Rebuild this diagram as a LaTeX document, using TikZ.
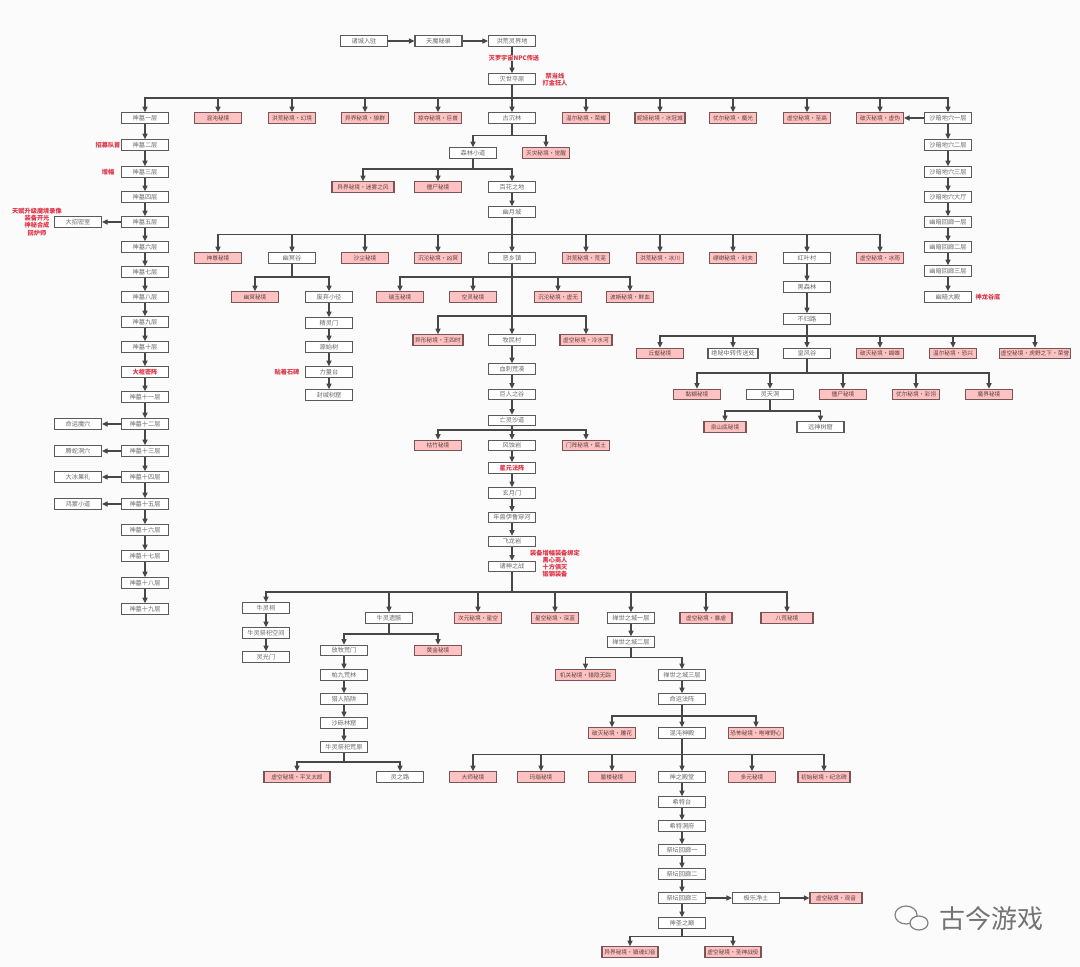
\documentclass[tikz,border=0pt]{standalone}
\usepackage{fontspec}
\setmainfont{Noto Sans CJK SC}
\usetikzlibrary{arrows.meta}
\definecolor{bgc}{HTML}{FBFBFB}
\definecolor{pinkf}{HTML}{FFC2C2}
\definecolor{pinkd}{HTML}{7A5555}
\definecolor{boxd}{HTML}{5A5A5A}
\definecolor{linec}{HTML}{474747}
\definecolor{txtc}{HTML}{6A6A6A}
\definecolor{redt}{HTML}{DE3345}
\tikzset{
  x=1pt,y=-1pt,
  wb/.style={draw=boxd,fill=white,line width=1.1pt,minimum width=47pt,minimum height=10.5pt,inner sep=0pt,text=txtc,font=\fontsize{6.2}{7}\selectfont},
  pb/.style={wb,draw=pinkd,fill=pinkf,text=pinkd!75!black,font=\fontsize{5.7}{7}\selectfont},
  rb/.style={wb,text=redt},
  redl/.style={text=redt,font=\fontsize{6.2}{7.1}\selectfont\bfseries,align=center,inner sep=0pt},
  link/.style={draw=linec,line width=1.1pt,-{Triangle[length=5.5pt,width=5pt]}},
}
\newcommand{\tre}[3]{\foreach \c in {#3}{\draw[link] (#1.south) -- (#1.south |- 0,#2) -| (\c.north);}}
\newcommand{\dn}[2]{\draw[link] (#1.south) -- (#2.north);}
\newcommand{\lf}[2]{\draw[link] (#1.west) -- (#2.east);}
\newcommand{\rt}[2]{\draw[link] (#1.east) -- (#2.west);}
\begin{document}
\begin{tikzpicture}
\useasboundingbox (0,0) rectangle (1080,967);
\fill[bgc] (0,0) rectangle (1080,967);
% top
\node[wb] (a) at (364,41) {诸城入驻};
\node[wb] (b) at (438.5,41) {天魔秘录};
\node[wb] (c) at (512,41) {洪荒灵界地};
\node[wb] (d) at (512,79) {灭世平原};
\rt{a}{b}\rt{b}{c}\dn{c}{d}
\node[redl,fill=bgc] (rd1) at (514,58) {灭罗宇宙NPC传送};
\node[redl] (rd2) at (555,80) {禁当线\\打金狂人};
% row 2
\node[wb] (l1) at (145,118) {神墓一层};
\node[pb] (r1) at (218,118) {混沌秘境};
\node[pb] (r2) at (292,118) {洪荒秘境·幻境};
\node[pb] (r3) at (365,118) {异界秘境·狼群};
\node[pb] (r4) at (438,118) {掠夺秘境·巨兽};
\node[wb] (gu) at (512,118) {古沉林};
\node[pb] (r5) at (586,118) {温尔秘境·荣耀};
\node[pb,minimum width=50pt] (r6) at (660,118) {妮娅秘境·冰冠城};
\node[pb] (r7) at (733,118) {优尔秘境·魔光};
\node[pb] (r8) at (807,118) {虚空秘境·至高};
\node[pb] (r9) at (880,118) {破灭秘境·虚伪};
\node[wb] (s1) at (948,118) {沙暗地穴一层};
\tre{d}{98}{l1,r1,r2,r3,r4,gu,r5,r6,r7,r8,r9,s1}
\lf{s1}{r9}
% left column
\node[wb] (l2) at (145,145) {神墓二层};
\node[wb] (l3) at (145,172) {神墓三层};
\node[wb] (l4) at (145,197) {神墓四层};
\node[wb] (l5) at (145,222) {神墓五层};
\node[wb] (l6) at (145,247) {神墓六层};
\node[wb] (l7) at (145,272) {神墓七层};
\node[wb] (l8) at (145,297) {神墓八层};
\node[wb] (l9) at (145,322) {神墓九层};
\node[wb] (l10) at (145,347) {神墓十层};
\node[rb] (lx) at (145,372) {\textbf{大棺密阵}};
\node[wb] (l11) at (145,397) {神墓十一层};
\node[wb] (l12) at (145,424) {神墓十二层};
\node[wb] (l13) at (145,451) {神墓十三层};
\node[wb] (l14) at (145,477) {神墓十四层};
\node[wb] (l15) at (145,504) {神墓十五层};
\node[wb] (l16) at (145,530) {神墓十六层};
\node[wb] (l17) at (145,556) {神墓十七层};
\node[wb] (l18) at (145,583) {神墓十八层};
\node[wb] (l19) at (145,609) {神墓十九层};
\dn{l1}{l2}\dn{l2}{l3}\dn{l3}{l4}\dn{l4}{l5}\dn{l5}{l6}\dn{l6}{l7}\dn{l7}{l8}\dn{l8}{l9}\dn{l9}{l10}\dn{l10}{lx}\dn{lx}{l11}\dn{l11}{l12}\dn{l12}{l13}\dn{l13}{l14}\dn{l14}{l15}\dn{l15}{l16}\dn{l16}{l17}\dn{l17}{l18}\dn{l18}{l19}
\node[wb] (m5) at (78,222) {大招密室};
\node[wb] (m12) at (78,424) {命运魔穴};
\node[wb] (m13) at (78,451) {腾蛇洞穴};
\node[wb] (m14) at (78,477) {大冰果礼};
\node[wb] (m15) at (78,504) {鸿蒙小道};
\lf{l5}{m5}\lf{l12}{m12}\lf{l13}{m13}\lf{l14}{m14}\lf{l15}{m15}
\node[redl] (t1) at (108,145.5) {招募队首};
\node[redl] (t2) at (108,172.5) {增幅};
\node[redl] (t3) at (37,222) {天赋升级魔境录像\\装备开光\\神秘合成\\回炉师};
% right column
\node[wb] (s2) at (948,145) {沙暗地穴二层};
\node[wb] (s3) at (948,172) {沙暗地穴三层};
\node[wb] (s4) at (948,197) {沙暗地穴大厅};
\node[wb] (s5) at (948,222) {幽暗回廊一层};
\node[wb] (s6) at (948,247) {幽暗回廊二层};
\node[wb] (s7) at (948,271) {幽暗回廊三层};
\node[wb] (s8) at (948,297) {幽暗大殿};
\dn{s1}{s2}\dn{s2}{s3}\dn{s3}{s4}\dn{s4}{s5}\dn{s5}{s6}\dn{s6}{s7}\dn{s7}{s8}
\node[redl] (t4) at (988,297) {神龙谷底};
% centre upper
\node[wb] (f1) at (473,153) {森林小道};
\node[pb] (f2) at (546,153) {灭灾秘境·觉醒};
\tre{gu}{135.5}{f1,f2}
\node[pb,minimum width=62pt] (g1) at (363,187) {异界秘境·迷雾之风};
\node[pb] (g2) at (438,187) {僵尸秘境};
\node[wb] (g3) at (512,187) {百花之地};
\node[wb] (g4) at (512,212) {幽月城};
\tre{f1}{169}{g1,g2,g3}
\dn{g3}{g4}
% row 258
\node[pb] (h1) at (218,258) {神尊秘境};
\node[wb] (h2) at (292,258) {幽冥谷};
\node[pb] (h3) at (365,258) {沙尘秘境};
\node[pb] (h4) at (438,258) {沉沦秘境·凶冥};
\node[wb] (h5) at (512,258) {恶乡镇};
\node[pb] (h6) at (586,258) {洪荒秘境·荒芜};
\node[pb] (h7) at (660,258) {洪荒秘境·冰川};
\node[pb] (h8) at (733,258) {缥缈秘境·利夫};
\node[wb] (h9) at (807,258) {红叶村};
\node[pb] (h10) at (880,258) {虚空秘境·冰雨};
\tre{g4}{234.5}{h1,h2,h3,h4,h5,h6,h7,h8,h9,h10}
% under h2
\node[pb] (i1) at (255,297) {幽冥秘境};
\node[wb] (i2) at (329,297) {废弃小径};
\node[wb] (i3) at (329,323) {精灵门};
\node[wb] (i4) at (329,347) {源始树};
\node[wb] (i5) at (329,372) {力量台};
\node[wb] (i6) at (329,395) {封缄树窟};
\tre{h2}{277}{i1,i2}
\dn{i2}{i3}\dn{i3}{i4}\dn{i4}{i5}\dn{i5}{i6}
\node[redl] (t5) at (287,372) {贴着石碑};
% under h5
\node[pb] (j1) at (400,297) {瑞玉秘境};
\node[pb] (j2) at (473,297) {空灵秘境};
\node[pb] (j3) at (558,297) {沉沦秘境·虚无};
\node[pb] (j4) at (630,297) {波斯秘境·鲜血};
\tre{h5}{277}{j1,j2,j3,j4}
\node[pb,minimum width=50pt] (k1) at (438,340) {异形秘境·王四时};
\node[wb] (k2) at (512,340) {牧民村};
\node[pb,minimum width=52pt] (k3) at (586,340) {虚空秘境·冷水河};
\tre{h5}{316}{k1,k2,k3}
\node[wb] (k4) at (512,369) {血刺荒漠};
\node[wb] (k5) at (512,394.5) {巨人之谷};
\node[wb] (k6) at (512,420.5) {亡灵沙道};
\dn{k2}{k4}\dn{k4}{k5}\dn{k5}{k6}
\node[pb] (n1) at (438,445.5) {枯竹秘境};
\node[wb] (n2) at (512,445.5) {风蚀岩};
\node[pb] (n3) at (586,445.5) {门阵秘境·腐土};
\tre{k6}{430}{n1,n2,n3}
\node[rb] (n4) at (512,468) {\textbf{星元法阵}};
\node[wb] (n5) at (512,493) {玄月门};
\node[wb] (n6) at (512,517.5) {年兽伊鲁穿河};
\node[wb] (n7) at (512,541.5) {飞龙岩};
\node[wb] (n8) at (512,566.5) {诸神之战};
\dn{n2}{n4}\dn{n4}{n5}\dn{n5}{n6}\dn{n6}{n7}\dn{n7}{n8}
\node[redl] (t6) at (555,563.5) {装备增幅装备绑定\\黑心商人\\十方俱灭\\锻钢装备};
% bus 592
\node[wb] (o1) at (266,608) {牛灵祠};
\node[wb] (o2) at (389,618) {牛灵遗骸};
\node[pb] (o3) at (478,618) {次元秘境·星空};
\node[pb] (o4) at (555,618) {星空秘境·深蓝};
\node[wb] (o5) at (631,618) {禅世之城一层};
\node[pb,minimum width=52pt] (o6) at (706,618) {虚空秘境·暴虐};
\node[pb,minimum width=52pt] (o7) at (787,618) {八荒秘境};
\tre{n8}{592}{o1,o2,o3,o4,o5,o6,o7}
\node[wb] (o8) at (266,633) {牛灵祭祀空间};
\node[wb] (o9) at (266,657) {灵光门};
\dn{o1}{o8}\dn{o8}{o9}
% under o2
\node[wb] (p1) at (344,650.5) {放牧荒门};
\node[pb] (p2) at (438,650.5) {黄金秘境};
\tre{o2}{634}{p1,p2}
\node[wb] (p3) at (344,675) {帕九荒林};
\node[wb] (p4) at (344,699) {猎人陷阱};
\node[wb] (p5) at (344,723) {沙砾林窟};
\node[wb] (p6) at (344,747) {牛灵祭祀荒原};
\dn{p1}{p3}\dn{p3}{p4}\dn{p4}{p5}\dn{p5}{p6}
\node[pb,minimum width=66pt] (p7) at (297,777) {虚空秘境·平叉太郎};
\node[wb] (p8) at (400,777) {灵之路};
\tre{p6}{762}{p7,p8}
% under o5
\node[wb] (q1) at (631,642) {禅世之城二层};
\dn{o5}{q1}
\node[pb,minimum width=60pt] (q2) at (585.5,675) {机关秘境·猎隐无踪};
\node[wb] (q3) at (682,675) {禅世之城三层};
\tre{q1}{657.5}{q2,q3}
\node[wb] (q4) at (682,699) {命运法阵};
\dn{q3}{q4}
\node[pb] (u1) at (612,733) {破灭秘境·雕花};
\node[wb] (u2) at (682,733) {混沌神殿};
\node[pb,minimum width=55pt] (u3) at (756,733) {恐怖秘境·咆哮野心};
\tre{q4}{716}{u1,u2,u3}
\node[pb] (v1) at (473,777) {大师秘境};
\node[pb] (v2) at (541,777) {玛瑙秘境};
\node[pb] (v3) at (612,777) {蜃楼秘境};
\node[wb] (v4) at (682,777) {神之殿堂};
\node[pb] (v5) at (752,777) {多元秘境};
\node[pb,minimum width=52pt] (v6) at (824,777) {初始秘境·纪念碑};
\tre{u2}{754.5}{v1,v2,v3,v4,v5,v6}
\node[wb] (w1) at (682,802) {希特台};
\node[wb] (w2) at (682,826) {希特洞府};
\node[wb] (w3) at (682,850) {祭坛回廊一};
\node[wb] (w4) at (682,874) {祭坛回廊二};
\node[wb] (w5) at (682,898) {祭坛回廊三};
\node[wb] (w6) at (682,923) {神圣之巅};
\dn{v4}{w1}\dn{w1}{w2}\dn{w2}{w3}\dn{w3}{w4}\dn{w4}{w5}\dn{w5}{w6}
\node[wb] (w7) at (756,898) {极乐净土};
\node[pb,minimum width=52pt] (w8) at (836,898) {虚空秘境·观音};
\rt{w5}{w7}\rt{w7}{w8}
\node[pb,minimum width=56pt] (w9) at (630,952) {异界秘境·镇魂幻音};
\node[pb,minimum width=56pt] (w10) at (733,952) {虚空秘境·圣神战役};
\tre{w6}{936.5}{w9,w10}
% under h9
\node[wb] (x1) at (807,287) {黑森林};
\node[wb] (x2) at (807,319) {不归路};
\dn{h9}{x1}\dn{x1}{x2}
\node[pb] (x3) at (660,353.5) {丘壑秘境};
\node[wb,minimum width=50pt] (x4) at (733,353.5) {绝秘中转传送处};
\node[wb] (x5) at (807,353.5) {皇风谷};
\node[pb] (x6) at (880,353.5) {破灭秘境·蝴蝶};
\node[pb] (x7) at (953,353.5) {温尔秘境·恐兴};
\node[pb,minimum width=71pt] (x8) at (1035,353.5) {虚空秘境·虎野之下·荣誉};
\tre{x2}{336}{x3,x4,x5,x6,x7,x8}
\node[pb] (y1) at (697,394.5) {黏糊秘境};
\node[wb] (y2) at (770,394.5) {灵天洞};
\node[pb] (y3) at (843,394.5) {僵尸秘境};
\node[pb] (y4) at (916,394.5) {优尔秘境·彩翎};
\node[pb] (y5) at (989,394.5) {魔界秘境};
\tre{x5}{373}{y1,y2,y3,y4,y5}
\node[pb,minimum width=42pt] (y6) at (725,427) {泉山底秘境};
\node[wb] (y7) at (820.5,427) {远神树窟};
\tre{y2}{411}{y6,y7}
% watermark
\begin{scope}[draw=black!50,line width=1.2pt]
\draw[fill=bgc] (906,915) ellipse (11pt and 9pt);
\draw[fill=bgc] (919,923) ellipse (9pt and 7pt);
\end{scope}
\node[text=black!55,font=\fontsize{26}{28}\selectfont,inner sep=0pt] (wm) at (991,919) {古今游戏};
\end{tikzpicture}
\end{document}
